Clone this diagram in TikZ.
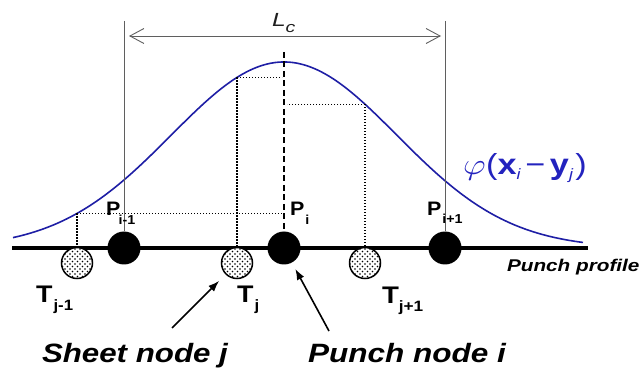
\documentclass[tikz,border=0pt]{standalone}
\usepackage{fontspec}
\setmainfont{Liberation Sans}
\usepackage{graphicx}
\usetikzlibrary{arrows.meta,patterns}
\definecolor{curveblue}{RGB}{30,30,165}
\definecolor{textblue}{RGB}{35,35,190}
\definecolor{guidegray}{RGB}{95,95,95}
\newcommand{\hstretch}[2]{\scalebox{#1}[1]{#2}}
\newcommand{\fs}[1]{\fontsize{#1}{#1}\selectfont}
\pgfdeclarepatternformonly{sheetdots}{\pgfqpoint{-1pt}{-1pt}}{\pgfqpoint{5pt}{5pt}}{\pgfqpoint{5pt}{5pt}}{%
  \pgfpathcircle{\pgfqpoint{0pt}{0pt}}{0.8pt}%
  \pgfpathcircle{\pgfqpoint{2.5pt}{2.5pt}}{0.8pt}%
  \pgfusepath{fill}}
\begin{document}
\begin{tikzpicture}[x=1pt,y=-1pt,
  pnode/.style={circle,fill=black,minimum size=33pt,inner sep=0pt},
  tnode/.style={circle,draw=black,line width=1.5pt,minimum size=31pt,inner sep=0pt,
    preaction={fill=white},pattern=sheetdots},
  lbl/.style={anchor=base west,inner sep=0pt,outer sep=0pt},
  dotline/.style={line width=1.2pt,dash pattern=on 1.2pt off 1.8pt},
  guide/.style={draw=guidegray,line width=0.9pt},
  ptr/.style={line width=1.6pt,-{Latex[length=11pt,width=8pt]}},
  curve/.style={draw=curveblue,line width=1.6pt}]
\useasboundingbox (0,0) rectangle (640,374);
% baseline
\coordinate (bl) at (12,248);
\coordinate (br) at (588,248);
\draw[line width=3.5pt] (bl) -- (br);
% gaussian
\draw[curve] plot[domain=13:583,samples=160,smooth] (\x,{248-186*exp(-((\x-284)/100)^2/2.5464)});
% punch nodes
\node[pnode] (Pim1) at (124,248) {};
\node[pnode] (Pi) at (284,248) {};
\node[pnode] (Pip1) at (445,248) {};
% sheet nodes
\node[tnode] (Tjm1) at (77,263) {};
\node[tnode] (Tj) at (237,263) {};
\node[tnode] (Tjp1) at (365,263) {};
% curve points
\coordinate (cA) at (77,213.4);
\coordinate (cB) at (237,77.5);
\coordinate (cC) at (365,104.3);
\coordinate (dtop) at (284,52);
\coordinate (gA) at (124,21);
\coordinate (gB) at (445,21);
\coordinate (lcA) at (129,36);
\coordinate (lcB) at (441,36);
% guide lines
\draw[guide] (gA) -- (Pim1.north);
\draw[guide] (gB) -- (Pip1.north);
\draw[guide,{Straight Barb[length=14pt,width=15pt]}-{Straight Barb[length=14pt,width=15pt]}] (lcA) -- (lcB);
% dashed
\draw[line width=1.6pt,dash pattern=on 6pt off 3.5pt] (dtop) -- (Pi.north);
% dotted
\draw[dotline] (cA) -- (Tjm1.north);
\draw[dotline] (cA) -- ([xshift=-1pt]cA -| Pi);
\draw[dotline] (cB) -- (Tj.north);
\draw[dotline] (cB) -- ([xshift=-2pt]cB -| Pi);
\draw[dotline] (cC) -- (Tjp1.north);
\draw[dotline] (cC) -- ([xshift=3pt]cC -| Pi);
% labels
\node[lbl,text=black!88] (Lc) at (272,27) {\hstretch{1.3}{\fs{19}\itshape L\raisebox{-6pt}{\fs{15}c}}};
\node[lbl] (lPim1) at (106,216) {\hstretch{1.1}{\fs{19.5}\bfseries P\kern-1.5pt\raisebox{-9pt}{\fs{13}i-1}}};
\node[lbl] (lPi) at (290,216) {\hstretch{1.1}{\fs{19.5}\bfseries P\kern1pt\raisebox{-9pt}{\fs{13}i}}};
\node[lbl] (lPip1) at (427,216) {\hstretch{1.1}{\fs{19.5}\bfseries P\kern1pt\raisebox{-8pt}{\fs{13}i+1}}};
\node[lbl] (lTjm1) at (36,302) {\hstretch{1.12}{\fs{24}\bfseries T\kern1pt\raisebox{-8pt}{\fs{15}j-1}}};
\node[lbl] (lTj) at (237,302) {\hstretch{1.12}{\fs{24}\bfseries T\kern1pt\raisebox{-8pt}{\fs{15}j}}};
\node[lbl] (lTjp1) at (382,303) {\hstretch{1.15}{\fs{24}\bfseries T\kern0pt\raisebox{-8pt}{\fs{15}j+1}}};
\node[lbl] (prof) at (507,271) {\hstretch{1.22}{\fs{17}\bfseries\itshape Punch profile}};
\node[lbl] (sheet) at (42,362) {\hstretch{1.18}{\fs{26.5}\bfseries\itshape Sheet node j}};
\node[lbl] (punch) at (308,362) {\hstretch{1.19}{\fs{26.5}\bfseries\itshape Punch node i}};
\node[lbl,text=textblue] (phi) at (463,175) {\hstretch{1.18}{\fs{29}\scalebox{1.2}{$\varphi$}\kern0.5pt(\textbf{x}\raisebox{-5pt}{\fs{15}\itshape i}\kern4pt−\kern4pt\textbf{y}\raisebox{-5pt}{\fs{15}\itshape j}\kern2pt)}};
% pointers
\coordinate (sheettail) at (172,328);
\coordinate (punchtail) at (329,331);
\draw[ptr,shorten >=9pt] (sheettail) -- (Tj);
\draw[ptr,shorten >=7pt] (punchtail) -- (Pi);
\end{tikzpicture}
\end{document}
